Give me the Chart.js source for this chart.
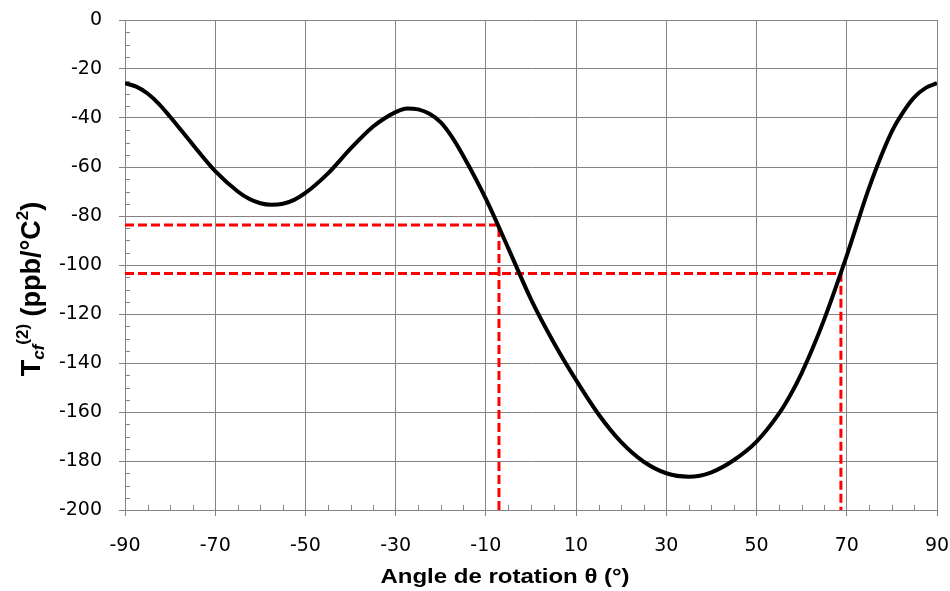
<!DOCTYPE html>
<html>
<head>
<meta charset="utf-8">
<script src="https://cdn.jsdelivr.net/npm/chart.js@4/dist/chart.umd.min.js"></script>
<style>
  html, body { margin: 0; padding: 0; background: #fff; }
  #wrap { width: 950px; height: 591px; }
</style>
</head>
<body>
<div id="wrap"><canvas id="tcfChart" width="950" height="591"></canvas></div>
<script>
// Angle de rotation (deg) and T_cf(2) (ppb/°C²)
const angles = [-90, -87.5, -85, -82.5, -80, -75, -70, -65, -62.5, -60, -57.5, -55, -52.5, -50, -45, -40, -35, -32.5, -30,
  -27.5, -25, -22.5, -20, -17.5, -15, -10, -5, 0, 5, 10, 15, 20, 25, 30, 35, 40, 45, 50, 55, 57.5, 60, 62.5, 65,
  70, 75, 80, 82.5, 85, 87.5, 90];
const tcf = [-25.8, -27.2, -30, -34.2, -39.5, -50.8, -61.7, -70, -73, -74.8, -75.4, -75, -73.4, -70.6, -62.6, -52.5, -43.5, -40.2, -37.6,
  -36.1, -36.5, -38.3, -41.8, -47.8, -55.5, -73, -93.3, -114, -131.5, -147, -161, -172.3, -180.3, -185, -186.4, -184.6, -179.6, -172.1, -160.6, -153.1, -144.1, -133.7, -122.2,
  -96.2, -68.2, -45.5, -37.6, -31.5, -27.7, -25.8];

// red guide lines: two read-off points
const guideAngles = [-7.1, 68.7];
const guideValues = [-83.7, -103.5];

const xTicks = [-90, -70, -50, -30, -10, 10, 30, 50, 70, 90];
const yTicks = [-200, -180, -160, -140, -120, -100, -80, -60, -40, -20, 0];

const TICK_FONT = "'DejaVu Sans', sans-serif";
const TITLE_FONT = "'Liberation Sans', Arial, sans-serif";
const GRID = '#848484';

const curve = angles.map((a, i) => ({ x: a, y: tcf[i] }));
const guides = guideAngles.map((a, i) => ({
  label: 'guide' + i,
  data: [{ x: xTicks[0], y: guideValues[i] }, { x: a, y: guideValues[i] }, { x: a, y: yTicks[0] }],
  borderColor: '#ff0000',
  borderWidth: 3,
  borderDash: [9, 4],
  pointRadius: 0,
  tension: 0,
  fill: false
}));

// minor ticks (inside) + axis titles with sub/superscripts
const extras = {
  id: 'extras',
  beforeDatasetsDraw(chart) {
    const { ctx, scales: { x, y } } = chart;
    ctx.save();
    ctx.strokeStyle = GRID;
    ctx.lineWidth = 1;
    ctx.beginPath();
    for (let v = -90; v <= 90; v += 5) {
      if (xTicks.includes(v)) continue;
      const px = Math.round(x.getPixelForValue(v)) + 0.5;
      ctx.moveTo(px, y.bottom);
      ctx.lineTo(px, y.bottom - 5);
    }
    for (let v = -200; v <= 0; v += 5) {
      if (yTicks.includes(v)) continue;
      const py = Math.round(y.getPixelForValue(v)) + 0.5;
      ctx.moveTo(x.left, py);
      ctx.lineTo(x.left + 5, py);
    }
    ctx.stroke();
    ctx.restore();
  },
  afterDraw(chart) {
    const { ctx } = chart;
    ctx.save();
    ctx.fillStyle = '#000';
    ctx.textBaseline = 'alphabetic';
    // x title (slightly widened like the original)
    ctx.save();
    ctx.translate(505, 583);
    ctx.scale(1.2, 1);
    ctx.font = 'bold 20px ' + TITLE_FONT;
    ctx.textAlign = 'center';
    ctx.fillText('Angle de rotation θ (°)', 0, 0);
    ctx.restore();
    // y title, rotated
    const parts = [
      { t: 'T', f: 'bold 27px ', dy: 0 },
      { t: 'cf', f: 'italic bold 17px ', dy: 4 },
      { t: '(2)', f: 'bold 17px ', dy: -12 },
      { t: ' (ppb/°C', f: 'bold 27px ', dy: 0 },
      { t: '2', f: 'bold 17px ', dy: -12 },
      { t: ')', f: 'bold 27px ', dy: 0 }
    ];
    ctx.textAlign = 'left';
    let total = 0;
    parts.forEach(p => { ctx.font = p.f + TITLE_FONT; p.w = ctx.measureText(p.t).width; total += p.w; });
    ctx.translate(40, 289);
    ctx.rotate(-Math.PI / 2);
    let cx = -total / 2;
    parts.forEach(p => { ctx.font = p.f + TITLE_FONT; ctx.fillText(p.t, cx, p.dy); cx += p.w; });
    ctx.restore();
  }
};

new Chart(document.getElementById('tcfChart'), {
  type: 'line',
  data: {
    datasets: [
      {
        label: 'Tcf(2)',
        data: curve,
        borderColor: '#000',
        borderWidth: 4,
        pointRadius: 0,
        cubicInterpolationMode: 'monotone',
        fill: false
      },
      ...guides
    ]
  },
  options: {
    responsive: false,
    animation: false,
    layout: { padding: { top: 20, right: 13, left: 0, bottom: 0 } },
    plugins: {
      legend: { display: false },
      tooltip: { enabled: false }
    },
    scales: {
      x: {
        type: 'linear',
        min: -90,
        max: 90,
        afterBuildTicks: axis => { axis.ticks = xTicks.map(v => ({ value: v })); },
        afterFit: axis => { axis.height = 81; axis.paddingLeft = 0; axis.paddingRight = 0; },
        grid: { color: GRID, lineWidth: 1, tickLength: 6 },
        border: { display: true, color: GRID, width: 1 },
        ticks: {
          color: '#000',
          padding: 19,
          maxRotation: 0,
          autoSkip: false,
          font: { family: TICK_FONT, size: 19 }
        }
      },
      y: {
        type: 'linear',
        min: -200,
        max: 0,
        afterBuildTicks: axis => { axis.ticks = yTicks.map(v => ({ value: v })); },
        afterFit: axis => { axis.width = 125; axis.paddingTop = 0; axis.paddingBottom = 0; },
        grid: { color: GRID, lineWidth: 1, tickLength: 6 },
        border: { display: true, color: GRID, width: 1 },
        ticks: {
          color: '#000',
          padding: 17,
          autoSkip: false,
          font: { family: TICK_FONT, size: 19 }
        }
      }
    }
  },
  plugins: [extras]
});
</script>
</body>
</html>
